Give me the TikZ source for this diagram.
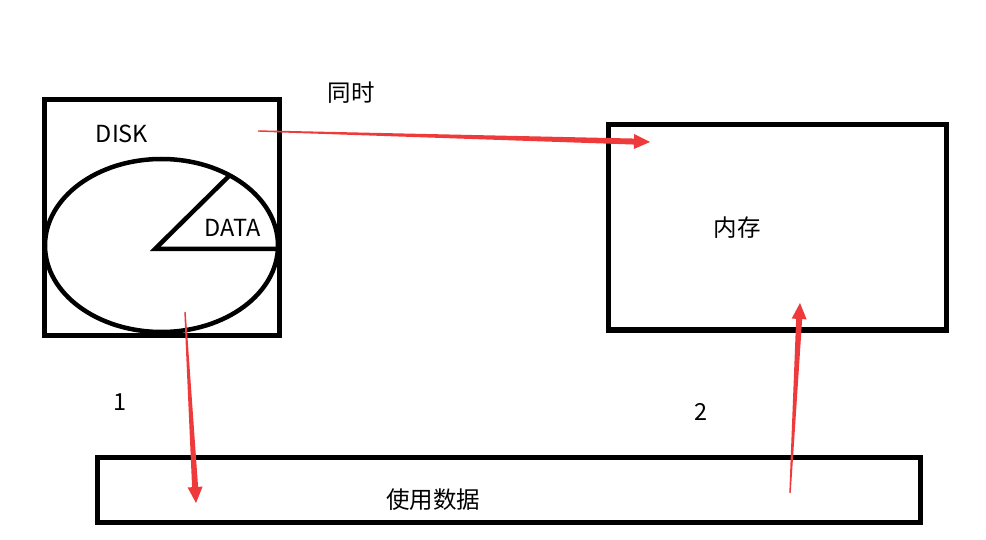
\documentclass[tikz,border=0pt]{standalone}
\usepackage{fontspec}
\newfontfamily\cjk{Noto Sans CJK SC}
\usetikzlibrary{calc,positioning}
\definecolor{arrowred}{RGB}{238,58,58}
\tikzset{
    %Define style for boxes
    frame/.style={
           draw=black,
           line width=5pt},
    label/.style={
           font=\cjk\fontsize{23.5}{28}\selectfont,
           inner sep=0pt,
           text centered},
    % Define arrow style
    pil/.style={
           fill=arrowred}
}
% tapered red arrow from #1 to #2
\newcommand\taper[2]{%
  \coordinate (hb) at ($(#2)!16pt!(#1)$);
  \fill[pil] ($(#1)!0.7pt!90:(#2)$) -- ($(hb)!3pt!90:(#2)$) -- ($(hb)!7.5pt!90:(#2)$)
     -- (#2) -- ($(hb)!7.5pt!-90:(#2)$) -- ($(hb)!3pt!-90:(#2)$)
     -- ($(#1)!0.7pt!-90:(#2)$) -- cycle;}

\begin{document}
\begin{tikzpicture}[x=1pt,y=-1pt]
\useasboundingbox (0,0) rectangle (986,540);
 %boxes
\draw[frame] (44,100) rectangle (279,335);
\draw[frame] (608,125) rectangle (946,330);
\draw[frame] (97,457) rectangle (920,522);
 %disk
\draw[line width=4.5pt] (161.5,245.5) ellipse [x radius=116.5, y radius=86.5];
\coordinate (c) at (155,249);
\draw[line width=4.5pt] (229,176) -- (c) -- (278,249);
 %texts
\node[label] (disk) at (122,134) {DISK};
\node[label] (data) at (233,228) {DATA};
\node[label] (mem) at (737,228) {内存};
\node[label] (use) at (433,500) {使用数据};
\node[label] (both) at (351,93) {同时};
\node[label] (one) at (120,402) {1};
\node[label] (two) at (701,412) {2};
 %arrows
\coordinate (a1) at (258,131);
\coordinate (a2) at (650,142);
\coordinate (b1) at (185,312);
\coordinate (b2) at (196,503);
\coordinate (c1) at (790,493);
\coordinate (c2) at (800,303);
\taper{a1}{a2}
\taper{b1}{b2}
\taper{c1}{c2}
\end{tikzpicture}
\end{document}
